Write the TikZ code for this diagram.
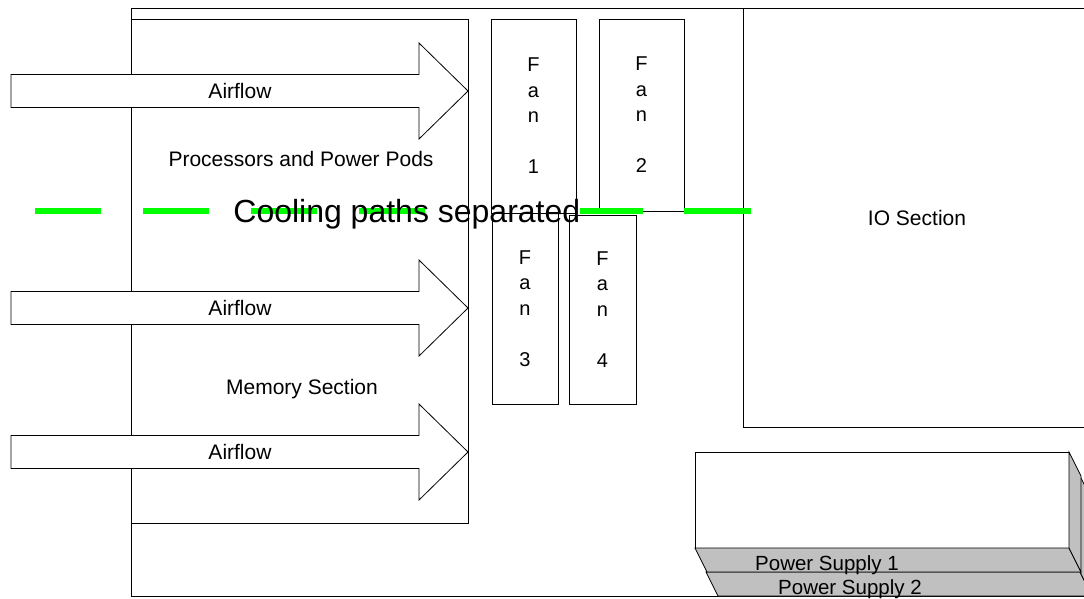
\documentclass[tikz,border=0pt]{standalone}
\usepackage{fontspec}
\setmainfont{Liberation Sans}
\definecolor{psgray}{RGB}{192,192,192}
\definecolor{pathgreen}{RGB}{0,255,0}
\begin{document}
\begin{tikzpicture}[x=1pt,y=-1pt,line width=0.8pt,
    lbl/.style={font=\fontsize{21}{25}\selectfont,anchor=base,inner sep=0pt},
    fanlbl/.style={font=\fontsize{20}{25.5}\selectfont,align=center,inner sep=0pt},
    pslbl/.style={font=\fontsize{20.5}{24}\selectfont,anchor=base,inner sep=0pt}]
    \useasboundingbox (0,0) rectangle (1084,598);
    \clip (0,0) rectangle (1084,598);
    % chassis, processor/memory section, IO section
    \draw (131,8) rectangle (1100,596);
    \draw (131,19) rectangle (468,523);
    \draw (743,8) rectangle (1100,427);
    % airflow arrows
    \foreach \c/\b/\n in {91/98/air1,308/315/air2,452/459/air3}{
        \draw[fill=white] (11,\c-16.5) -- (419,\c-16.5) -- (419,\c-48) -- (468,\c)
            -- (419,\c+48) -- (419,\c+16.5) -- (11,\c+16.5) -- cycle;
        \node[lbl] (\n) at (240,\b) {Airflow};
    }
    % fans
    \foreach \i/\xa/\ya/\xb/\yb in {1/491/19/576/213,2/599/19/684/211,3/492/213/558/404,4/569/215/636/404}{
        \draw (\xa,\ya) rectangle (\xb,\yb);
        \node[fanlbl] (fan\i) at ({(\xa+\xb)/2},{(\ya+\yb)/2}) {F\\a\\n\\[25.5pt]\i};
    }
    % power supplies (2 behind 1)
    \foreach \i/\xa/\ya/\xt in {2/706/476/850,1/695/452/827}{
        \draw[fill=white] (\xa,\ya) rectangle (\xa+374,\ya+96);
        \draw[fill=psgray] (\xa,\ya+96) -- (\xa+374,\ya+96) -- (\xa+386,\ya+120) -- (\xa+12,\ya+120) -- cycle;
        \draw[fill=psgray] (\xa+374,\ya) -- (\xa+386,\ya+24) -- (\xa+386,\ya+120) -- (\xa+374,\ya+96) -- cycle;
        \node[pslbl] (ps\i) at (\xt,\ya+118.5) {Power Supply \i};
    }
    % separation line
    \foreach \a/\b in {35/101,143/209,251/317,359/425,580/643,684/751}
        \draw[pathgreen,line width=6pt] (\a,211) -- (\b,211);
    \node[anchor=base west,inner sep=0pt,font=\fontsize{32}{38}\selectfont] (sep) at (233,222) {Cooling paths separated};
    % section labels
    \node[lbl] (cpu) at (301,166) {Processors and Power Pods};
    \node[lbl] (mem) at (302,394) {Memory Section};
    \node[lbl] (io) at (917,225) {IO Section};
\end{tikzpicture}
\end{document}
